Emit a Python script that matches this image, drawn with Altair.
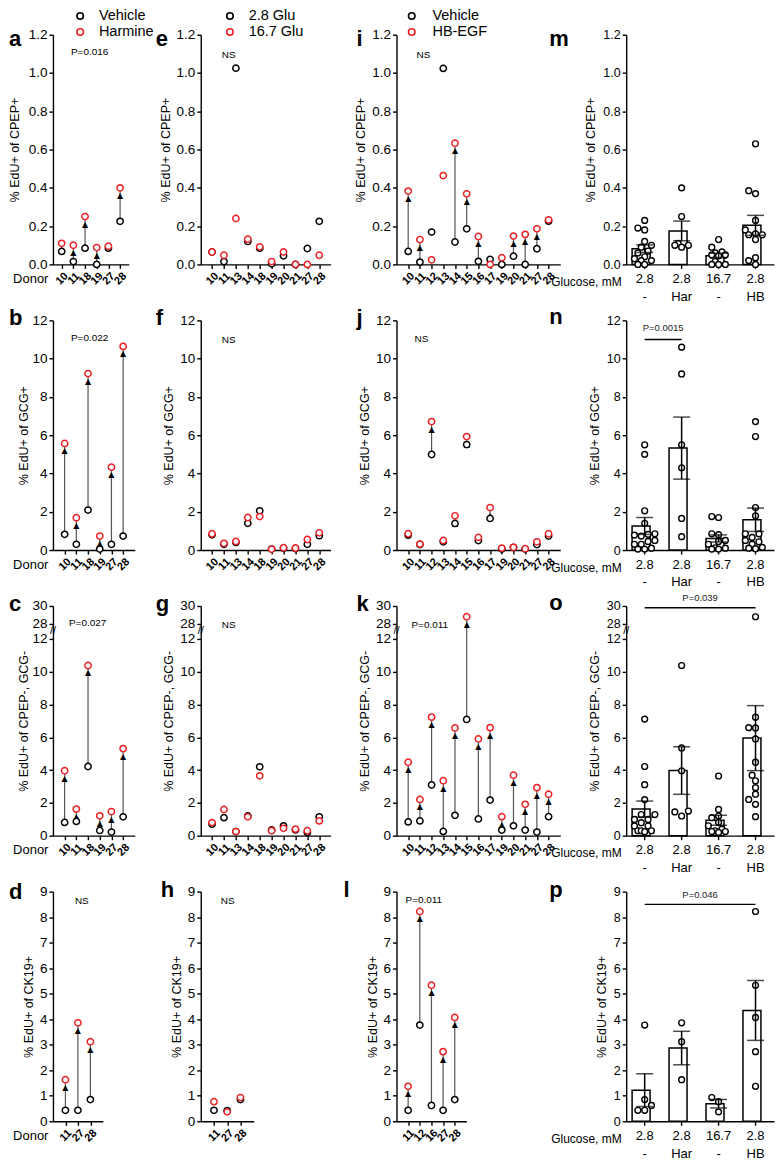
import altair as alt
import pandas as pd

FONT = "Liberation Sans"
RED = "#ee2024"
H = 230
W1, W2, W3, W4 = 82, 130, 164, 148
GROUPS = ["2.8 -", "2.8 Har", "16.7 -", "2.8 HB"]

# ---------------- data ----------------
donors_har = ["10", "11", "18", "19", "27", "28"]
a_vehicle = [0.068, 0.015, 0.085, 0.0, 0.085, 0.225]
a_harmine = [0.11, 0.10, 0.25, 0.088, 0.095, 0.40]
b_vehicle = [0.82, 0.30, 2.09, 0.05, 0.30, 0.73]
b_harmine = [5.57, 1.69, 9.22, 0.73, 4.33, 10.64]
c_vehicle = [0.81, 0.87, 4.22, 0.32, 0.22, 1.15]
c_harmine = [3.96, 1.62, 10.38, 1.21, 1.47, 5.31]
donors_ck_har = ["11", "27", "28"]
d_vehicle = [0.43, 0.43, 0.85]
d_harmine = [1.63, 3.86, 3.12]

donors_glu = ["10", "11", "13", "14", "18", "19", "20", "21", "27", "28"]
e_low = [0.065, 0.015, 1.025, 0.12, 0.085, 0.003, 0.045, 0.0, 0.083, 0.225]
e_high = [0.065, 0.048, 0.24, 0.132, 0.092, 0.015, 0.065, 0.0, 0.0, 0.048]
f_low = [0.80, 0.30, 0.40, 1.40, 2.05, 0.05, 0.10, 0.08, 0.30, 0.75]
f_high = [0.85, 0.35, 0.45, 1.70, 1.75, 0.05, 0.12, 0.10, 0.55, 0.90]
g_low = [0.70, 1.10, 0.25, 1.20, 4.20, 0.35, 0.60, 0.35, 0.20, 1.15]
g_high = [0.80, 1.60, 0.25, 1.15, 3.65, 0.30, 0.45, 0.40, 0.30, 0.90]
donors_ck_glu = ["11", "27", "28"]
h_low = [0.43, 0.42, 0.85]
h_high = [0.77, 0.37, 0.93]

donors_hb = ["10", "11", "12", "13", "14", "15", "16", "17", "19", "20", "21", "27", "28"]
i_vehicle = [0.068, 0.012, 0.169, 1.024, 0.117, 0.186, 0.016, 0.026, 0.0, 0.043, 0.0, 0.082, 0.226]
i_hbegf = [0.383, 0.13, 0.024, 0.464, 0.633, 0.369, 0.146, 0.0, 0.035, 0.148, 0.157, 0.186, 0.233]
j_vehicle = [0.78, 0.29, 4.99, 0.43, 1.39, 5.51, 0.50, 1.65, 0.05, 0.14, 0.05, 0.29, 0.73]
j_hbegf = [0.85, 0.31, 6.71, 0.50, 1.79, 5.93, 0.66, 2.22, 0.10, 0.14, 0.07, 0.43, 0.85]
k_vehicle = [0.84, 0.90, 3.09, 0.26, 1.24, 7.09, 1.02, 2.17, 0.34, 0.60, 0.34, 0.22, 1.16]
k_hbegf = [4.48, 2.21, 7.23, 3.35, 6.57, 28.8, 5.90, 6.59, 1.16, 3.69, 1.91, 2.93, 2.53]
donors_ck_hb = ["11", "12", "16", "27", "28"]
l_vehicle = [0.43, 3.77, 0.62, 0.43, 0.85]
l_hbegf = [1.37, 8.22, 5.33, 2.73, 4.07]

m_28 = [0.23, 0.19, 0.18, 0.12, 0.10, 0.09, 0.07, 0.06, 0.04, 0.03, 0.02, 0.02, 0.0, 0.0]
m_har = [0.40, 0.25, 0.11, 0.10, 0.09, 0.10]
m_167 = [0.13, 0.09, 0.065, 0.06, 0.05, 0.05, 0.045, 0.015, 0.0, 0.0, 0.0]
m_hb = [0.63, 0.385, 0.37, 0.23, 0.18, 0.16, 0.155, 0.155, 0.13, 0.035, 0.02, 0.0]
n_28 = [5.5, 5.0, 2.05, 1.4, 0.85, 0.82, 0.78, 0.73, 0.5, 0.45, 0.3, 0.3, 0.1, 0.05, 0.05]
n_har = [10.6, 9.2, 5.5, 4.3, 1.65, 0.7]
n_167 = [1.75, 1.7, 0.85, 0.8, 0.5, 0.45, 0.3, 0.12, 0.1, 0.05, 0.05]
n_hb = [6.71, 5.93, 2.22, 1.79, 0.85, 0.85, 0.66, 0.5, 0.43, 0.31, 0.14, 0.1, 0.07]
o_28 = [7.11, 4.22, 3.11, 2.2, 1.29, 1.29, 0.99, 0.99, 0.79, 0.59, 0.59, 0.3, 0.3, 0.3, 0.24]
o_har = [10.38, 5.35, 3.96, 1.5, 1.45, 1.2]
o_167 = [3.64, 1.6, 1.2, 1.1, 0.8, 0.6, 0.4, 0.3, 0.25, 0.25, 0.2]
o_hb = [28.8, 7.23, 6.59, 6.57, 5.9, 4.48, 3.69, 3.35, 2.93, 2.53, 2.21, 1.91, 1.16]
p_28 = [3.77, 0.85, 0.62, 0.43, 0.43]
p_har = [3.86, 3.12, 1.63]
p_167 = [0.93, 0.77, 0.37]
p_hb = [8.22, 5.33, 4.07, 2.73, 1.37]

YT_CPEP = "% EdU+ of CPEP+"
YT_GCG = "% EdU+ of GCG+"
YT_NEG = "% EdU+ of CPEP-, GCG-"
YT_CK = "% EdU+ of CK19+"
TICKS_A = [0, 0.2, 0.4, 0.6, 0.8, 1.0, 1.2]
TICKS_B = [0, 2, 4, 6, 8, 10, 12]
TICKS_C = [0, 2, 4, 6, 8, 10, 12, 28, 30]
TICKS_D = [0, 1, 2, 3, 4, 5, 6, 7, 8, 9]

# broken axis geometry (pixels from top for 12, 28 and 30)
Y12, Y28 = 33, 18


# ---------------- helpers ----------------
def px_lin(ymax):
    return lambda v: v / ymax * H


def px_broken(v):
    if v <= 12:
        return v * (H - Y12) / 12
    if v <= 28:
        return (H - Y12) + (v - 12) * (Y12 - Y28) / 16
    return (H - Y28) + (v - 28) * Y28 / 2


def yscale(kind, ymax):
    if kind == "broken":
        return alt.Scale(domain=[0, 12, 28, 30], range=[H, Y12, Y28, 0], nice=False, zero=False)
    return alt.Scale(domain=[0, ymax], nice=False)


def yaxis(values, fmt, lsize, tpad):
    return alt.Axis(values=values, format=fmt, labelFontSize=lsize, labelFont=FONT, labelColor="black",
                    labelPadding=2, labelOverlap=False, tickSize=4, tickWidth=1.4, tickColor="black",
                    domainColor="black", domainWidth=1.4, grid=False, titleFont=FONT, titleFontSize=12.5,
                    titleFontWeight="normal", titleColor="black", titlePadding=tpad)


def text_layer(txt, x, y, size, weight="normal", align="left", baseline="middle"):
    return alt.Chart(pd.DataFrame({"t": [txt]})).mark_text(
        align=align, baseline=baseline, fontSize=size, fontWeight=weight, font=FONT, color="black"
    ).encode(text="t:N", x=alt.value(x), y=alt.value(y))


def leg(x, lo):
    return alt.Legend(orient="none", legendX=x, legendY=-26, title=None, direction="vertical",
                      labelFont=FONT, labelFontSize=14.5, labelColor="black", labelOffset=lo,
                      symbolType="circle", symbolSize=42, symbolStrokeWidth=1.6, rowPadding=1, padding=0)


def swarm(ys, diam=6.4):
    cand = [0, -3.4, 3.4, -6.8, 6.8, -10.2, 10.2]
    order = sorted(range(len(ys)), key=lambda i: ys[i])
    placed, offs = [], [0.0] * len(ys)
    for i in order:
        y = ys[i]
        best, bestd = 0.0, -1.0
        for c in cand:
            d = min([((c - px) ** 2 + (y - py) ** 2) ** 0.5 for px, py in placed] or [99.0])
            if d >= diam:
                best = c
                break
            if d > bestd:
                best, bestd = c, d
        placed.append((best, y))
        offs[i] = best
    return offs


def break_layer(Y):
    return alt.Chart(pd.DataFrame({"b": [20.0]})).mark_text(
        text="//", fontSize=11, font=FONT, color="black", align="center", baseline="middle"
    ).encode(x=alt.value(0), y=Y("b:Q"))


def pair_panel(letter, lpos, donors, v0, v1, names, ytitle, kind, ymax, yvals, yfmt, width, pad,
               note, npos, arrows, tpad, legend=None, donor=False):
    n = len(donors)
    pxf = px_broken if kind == "broken" else px_lin(ymax)
    long = pd.DataFrame({"donor": donors + donors, "cond": [names[0]] * n + [names[1]] * n,
                         "val": list(v0) + list(v1)})
    xkw = dict(labelAngle=315, labelAlign="center", labelBaseline="middle", labelPadding=10,
               labelFontSize=11, labelFontWeight="bold", labelFont=FONT, labelColor="black",
               labelOverlap=False, tickSize=4, tickWidth=1.4, tickColor="black", domainColor="black",
               domainWidth=1.4, grid=False)
    if donor:
        xkw.update(title="Donor", titleX=-5, titleY=14, titleAlign="right", titleBaseline="middle",
                   titleAngle=0, titleFont=FONT, titleFontSize=13, titleFontWeight="normal",
                   titleColor="black")
    else:
        xkw.update(title=None)
    X = alt.X("donor:N", scale=alt.Scale(type="point", domain=donors, padding=pad), axis=alt.Axis(**xkw))
    ysc = yscale(kind, ymax)
    yax = yaxis(yvals, yfmt, 13.5, tpad)

    def Y(f):
        return alt.Y(f, scale=ysc, axis=yax, title=ytitle)

    layers = []
    if arrows:
        wide = pd.DataFrame({"donor": donors, "v0": v0, "v1": v1})
        wide = wide[[(pxf(b) - pxf(a)) > 7 for a, b in zip(v0, v1)]]
        layers.append(alt.Chart(wide).mark_rule(color="#555555", strokeWidth=1.2).encode(
            x=X, y=Y("v0:Q"), y2="v1:Q"))
        layers.append(alt.Chart(wide).mark_text(text="▲", font="DejaVu Sans", fontSize=8, dy=8,
                                                color="black").encode(x=X, y=Y("v1:Q")))
    stroke = alt.Stroke("cond:N", scale=alt.Scale(domain=names, range=["black", RED]), legend=legend)
    layers.append(alt.Chart(long).mark_point(shape="circle", size=40, strokeWidth=1.5, fill="white",
                                             fillOpacity=1, opacity=1).encode(
        x=X, y=Y("val:Q"), stroke=stroke))
    if kind == "broken":
        layers.append(break_layer(Y))
    layers.append(text_layer(letter, lpos[0], lpos[1], 22, "bold", "left", "alphabetic"))
    layers.append(text_layer(note, npos[0], npos[1], 10))
    return alt.layer(*layers).properties(width=width, height=H)


def bar_panel(letter, lpos, groups_vals, ytitle, kind, ymax, yvals, yfmt, annot, tpad):
    pxf = px_broken if kind == "broken" else px_lin(ymax)
    rows = []
    for g, vals in zip(GROUPS, groups_vals):
        offs = swarm([pxf(v) for v in vals])
        rows += [{"grp": g, "val": v, "jit": o} for v, o in zip(vals, offs)]
    df = pd.DataFrame(rows)
    bw = W4 / 4 * 0.68
    xax = alt.Axis(labelAngle=0, labelExpr="split(datum.label, ' ')", labelAlign="center",
                   labelBaseline="top", labelPadding=4, labelLineHeight=18, labelFontSize=13,
                   labelFont=FONT, labelColor="black", tickSize=4, tickWidth=1.4, tickColor="black",
                   domainColor="black", domainWidth=1.4, grid=False, title="Glucose, mM", titleX=-5,
                   titleY=17, titleAlign="right", titleBaseline="middle", titleAngle=0, titleFont=FONT,
                   titleFontSize=12, titleFontWeight="normal", titleColor="black")
    xsc = alt.Scale(type="band", domain=GROUPS, paddingInner=0.32, paddingOuter=0.16)
    X = alt.X("grp:N", scale=xsc, axis=xax)
    ysc = yscale(kind, ymax)
    yax = yaxis(yvals, yfmt, 12.5, tpad)

    def Y(f):
        return alt.Y(f, scale=ysc, axis=yax, title=ytitle)

    base = alt.Chart(df)
    bars = base.mark_bar(fill="white", stroke="black", strokeWidth=1.5).encode(x=X, y=Y("mean(val):Q"))
    pts = base.mark_point(shape="circle", size=34, strokeWidth=1.4, fill="white", fillOpacity=1,
                          stroke="black", opacity=1).encode(
        x=X, xOffset=alt.XOffset("jit:Q", scale=alt.Scale(domain=[-bw / 2, bw / 2], range=[0, bw])),
        y=Y("val:Q"))
    err = base.transform_aggregate(m="mean(val)", se="stderr(val)", groupby=["grp"]).transform_calculate(
        lo="datum.m - datum.se", hi="datum.m + datum.se")
    erule = err.mark_rule(color="black", strokeWidth=1.5).encode(x=X, y=Y("lo:Q"), y2="hi:Q")
    cap_hi = err.mark_tick(color="black", thickness=1.5, size=17).encode(x=X, y=Y("hi:Q"))
    cap_lo = err.mark_tick(color="black", thickness=1.5, size=17).encode(x=X, y=Y("lo:Q"))
    layers = [bars, pts, erule, cap_hi, cap_lo]
    if kind == "broken":
        layers.append(break_layer(Y))
    if annot:
        g1, g2, yl, yt, txt, dxt = annot
        adf = pd.DataFrame({"g1": [g1], "g2": [g2], "yl": [yl], "yt": [yt], "t": [txt]})
        layers.append(alt.Chart(adf).mark_rule(color="black", strokeWidth=1.3).encode(
            x=alt.X("g1:N", scale=xsc, axis=xax), x2="g2:N", y=Y("yl:Q")))
        layers.append(alt.Chart(adf).mark_text(fontSize=9.5, font=FONT, color="#222222", dx=dxt,
                                               align="center", baseline="middle").encode(
            x=alt.X("g1:N", scale=xsc, axis=xax), y=Y("yt:Q"), text="t:N"))
    layers.append(text_layer(letter, lpos[0], lpos[1], 22, "bold", "left", "alphabetic"))
    return alt.layer(*layers).properties(width=W4, height=H)


HAR = ["Vehicle", "Harmine"]
GLU = ["2.8 Glu", "16.7 Glu"]
HB = ["Vehicle", "HB-EGF"]
STEP4 = W4 / 4

a = pair_panel("a", (-44, 11), donors_har, a_vehicle, a_harmine, HAR, YT_CPEP, "lin", 1.2, TICKS_A, ".1f",
               76, 0.75, "P=0.016", (18, 17), True, 7, legend=leg(20, 11.5), donor=True)
e = pair_panel("e", (-45, 11), donors_glu, e_low, e_high, GLU, YT_CPEP, "lin", 1.2, TICKS_A, ".1f",
               W2, 0.95, "NS", (21, 20), False, 4, legend=leg(22, 11.5))
i = pair_panel("i", (-40, 11), donors_hb, i_vehicle, i_hbegf, HB, YT_CPEP, "lin", 1.2, TICKS_A, ".1f",
               W3, 1.0, "NS", (20, 20), True, 4, legend=leg(8, 13.5))
m = bar_panel("m", (-77, 11), [m_28, m_har, m_167, m_hb], YT_CPEP, "lin", 1.2, TICKS_A, ".1f", None, 5)

b = pair_panel("b", (-44, 5), donors_har, b_vehicle, b_harmine, HAR, YT_GCG, "lin", 12, TICKS_B, "d",
               W1, 1.15, "P=0.022", (18, 18), True, 1, donor=True)
f = pair_panel("f", (-45, 5), donors_glu, f_low, f_high, GLU, YT_GCG, "lin", 12, TICKS_B, "d",
               W2, 0.95, "NS", (21, 20), False, 4)
j = pair_panel("j", (-40, 5), donors_hb, j_vehicle, j_hbegf, HB, YT_GCG, "lin", 12, TICKS_B, "d",
               W3, 1.0, "NS", (18, 19), True, 4)
n = bar_panel("n", (-77, 4), [n_28, n_har, n_167, n_hb], YT_GCG, "lin", 12, TICKS_B, "d",
              ("2.8 -", "2.8 Har", 11.0, 11.6, "P=0.0015", STEP4 / 2), 5)

c = pair_panel("c", (-44, 5), donors_har, c_vehicle, c_harmine, HAR, YT_NEG, "broken", None, TICKS_C, "d",
               W1, 1.1, "P=0.027", (16, 17), True, 1, donor=True)
g = pair_panel("g", (-45, 5), donors_glu, g_low, g_high, GLU, YT_NEG, "broken", None, TICKS_C, "d",
               W2, 0.95, "NS", (21, 19), False, 4)
k = pair_panel("k", (-40, 5), donors_hb, k_vehicle, k_hbegf, HB, YT_NEG, "broken", None, TICKS_C, "d",
               W3, 1.0, "P=0.011", (15, 19), True, 4)
o = bar_panel("o", (-77, 4), [o_28, o_har, o_167, o_hb], YT_NEG, "broken", None, TICKS_C, "d",
              ("2.8 -", "2.8 HB", 29.8, 30.9, "P=0.039", STEP4 * 1.5), 5)

d = pair_panel("d", (-44, 7), donors_ck_har, d_vehicle, d_harmine, HAR, YT_CK, "lin", 9, TICKS_D, "d",
               50, 1.3, "NS", (22, 9), True, 4, donor=True)
h = pair_panel("h", (-40, 5), donors_ck_glu, h_low, h_high, GLU, YT_CK, "lin", 9, TICKS_D, "d",
               53, 1.3, "NS", (20, 9), False, 4)
l = pair_panel("l", (-53, 5), donors_ck_hb, l_vehicle, l_hbegf, HB, YT_CK, "lin", 9, TICKS_D, "d",
               70, 1.05, "P=0.011", (9, 8), True, 4)
p = bar_panel("p", (-77, 5), [p_28, p_har, p_167, p_hb], YT_CK, "lin", 9, TICKS_D, "d",
              ("2.8 -", "2.8 HB", 8.5, 8.87, "P=0.046", STEP4 * 1.5), 5)

panels = [a, e, i, m, b, f, j, n, c, g, k, o, d, h, l, p]
chart = alt.concat(*panels, columns=4, spacing={"row": 56, "column": 66}, bounds="flush", align="each")
chart = chart.resolve_scale(x="independent", y="independent", stroke="independent", xOffset="independent")
chart = chart.properties(padding={"left": 0, "top": 0, "right": 2, "bottom": 2})
chart = chart.configure(font=FONT).configure_view(stroke=None)
chart.save("out.html", embed_options={"renderer": "svg", "actions": False})
